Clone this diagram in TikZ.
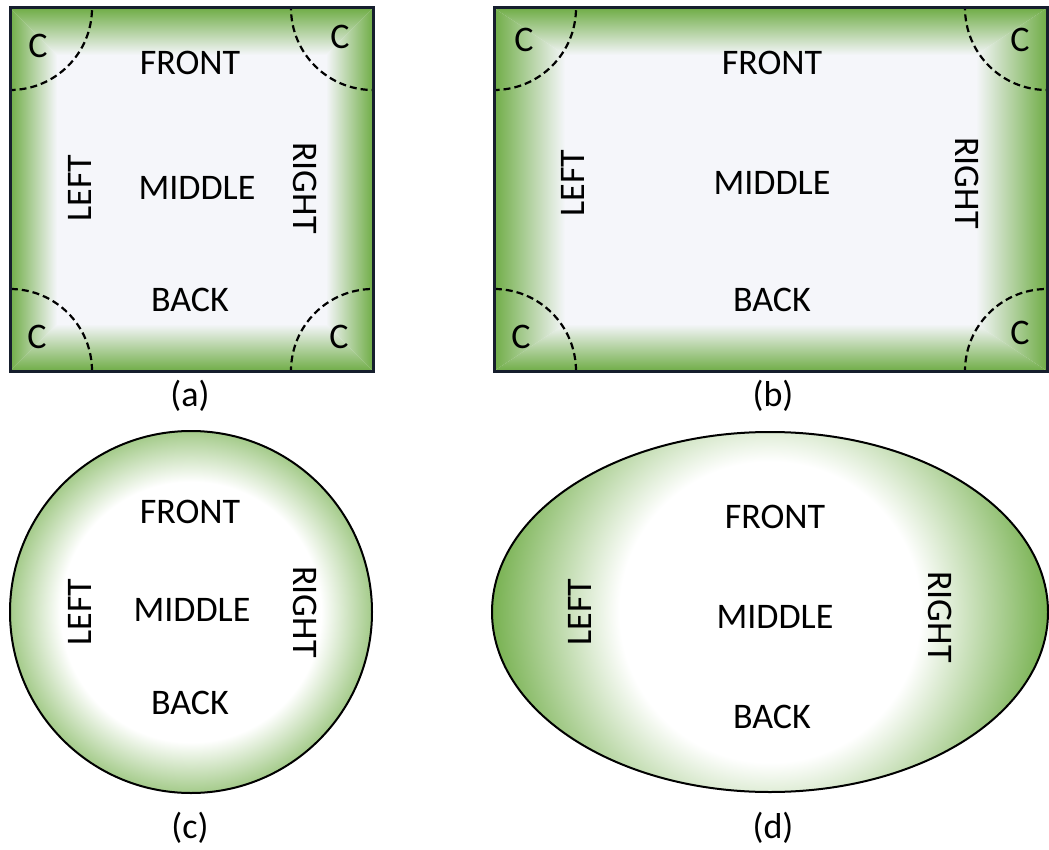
\documentclass[tikz,border=0pt]{standalone}
\usepackage{fontspec}
\setmainfont{Carlito}
\definecolor{grn}{RGB}{112,173,71}
\definecolor{pale}{RGB}{245,246,250}
\definecolor{edgec}{RGB}{22,30,45}
\pgfdeclareradialshading{ringc}{\pgfpoint{0bp}{0bp}}{color(0bp)=(white); color(15.5bp)=(white); color(25bp)=(grn); color(50bp)=(grn)}
\pgfdeclareradialshading{ringd}{\pgfpoint{0bp}{0bp}}{color(0bp)=(white); color(13.2bp)=(white); color(25bp)=(grn); color(50bp)=(grn)}
\tikzset{
  lbl/.style={inner sep=0pt, font=\fontsize{36}{40}\selectfont},
  frame/.style={draw=edgec, line width=3pt},
  rim/.style={draw=black, line width=2pt},
  cornerarc/.style={draw=black, line width=2.2pt, dash pattern=on 7pt off 4pt},
}
\begin{document}
\begin{tikzpicture}[x=1pt,y=1pt]
\useasboundingbox (0,0) rectangle (1049,-850);
% ---------- (a) ----------
\fill[pale] (10,-8) rectangle (373,-371);
\shade[top color=grn, bottom color=pale] (10,-8) -- (373,-8) -- (326,-55) -- (57,-55) -- cycle;
\shade[bottom color=grn, top color=pale] (10,-371) -- (373,-371) -- (326,-324) -- (57,-324) -- cycle;
\shade[left color=grn, right color=pale] (10,-8) -- (57,-55) -- (57,-324) -- (10,-371) -- cycle;
\shade[right color=grn, left color=pale] (373,-8) -- (326,-55) -- (326,-324) -- (373,-371) -- cycle;
\begin{scope}
  \clip (10,-8) rectangle (373,-371);
  \path[cornerarc] (10,-8) circle (82);
  \path[cornerarc] (373,-8) circle (82);
  \path[cornerarc] (10,-371) circle (82);
  \path[cornerarc] (373,-371) circle (82);
\end{scope}
\node[frame, fill=none, inner sep=0pt, minimum width=363pt, minimum height=363pt] (boxa) at (191.5,-189.5) {};
\node[lbl] (atl) at (38,-46) {C};
\node[lbl] (atr) at (340,-37) {C};
\node[lbl] (abl) at (37,-337) {C};
\node[lbl] (abr) at (339,-337) {C};
\node[lbl] (afront) at (190,-63) {FRONT};
\node[lbl] (aback) at (190,-300) {BACK};
\node[lbl] (amid) at (197,-188) {MIDDLE};
\node[lbl, rotate=90] (aleft) at (80,-188) {LEFT};
\node[lbl, rotate=-90] (aright) at (305,-188) {RIGHT};
\node[lbl] (capa) at (190,-396) {(a)};
% ---------- (b) ----------
\fill[pale] (494,-8) rectangle (1047,-371);
\shade[top color=grn, bottom color=pale] (494,-8) -- (1047,-8) -- (976,-55) -- (565,-55) -- cycle;
\shade[bottom color=grn, top color=pale] (494,-371) -- (1047,-371) -- (976,-324) -- (565,-324) -- cycle;
\shade[left color=grn, right color=pale] (494,-8) -- (565,-55) -- (565,-324) -- (494,-371) -- cycle;
\shade[right color=grn, left color=pale] (1047,-8) -- (976,-55) -- (976,-324) -- (1047,-371) -- cycle;
\begin{scope}
  \clip (494,-8) rectangle (1047,-371);
  \path[cornerarc] (494,-8) circle (82);
  \path[cornerarc] (1047,-8) circle (82);
  \path[cornerarc] (494,-371) circle (82);
  \path[cornerarc] (1047,-371) circle (82);
\end{scope}
\node[frame, fill=none, inner sep=0pt, minimum width=553pt, minimum height=363pt] (boxb) at (770.5,-189.5) {};
\node[lbl] (btl) at (524,-40) {C};
\node[lbl] (btr) at (1020,-40) {C};
\node[lbl] (bbl) at (521,-337) {C};
\node[lbl] (bbr) at (1020,-333) {C};
\node[lbl] (bfront) at (772,-63) {FRONT};
\node[lbl] (bback) at (772,-300) {BACK};
\node[lbl] (bmid) at (772,-183) {MIDDLE};
\node[lbl, rotate=90] (bleft) at (573,-183) {LEFT};
\node[lbl, rotate=-90] (bright) at (967,-183) {RIGHT};
\node[lbl] (capb) at (773,-396) {(b)};
% ---------- (c) ----------
\begin{scope}
  \clip (191,-612) circle (181);
  \shade[shading=ringc] (191,-612) circle (210);
\end{scope}
\node[rim, circle, inner sep=0pt, minimum size=362pt] (circc) at (191,-612) {};
\node[lbl] (cfront) at (190,-512) {FRONT};
\node[lbl] (cmid) at (192,-610) {MIDDLE};
\node[lbl] (cback) at (190,-703) {BACK};
\node[lbl, rotate=90] (cleft) at (80,-612) {LEFT};
\node[lbl, rotate=-90] (cright) at (305,-612) {RIGHT};
\node[lbl] (capc) at (190,-828) {(c)};
% ---------- (d) ----------
\begin{scope}
  \clip (770,-612) ellipse [x radius=278, y radius=180];
  \shade[shading=ringd] (770,-612) circle (285);
\end{scope}
\draw[rim] (770,-612) ellipse [x radius=278, y radius=180];
\node[inner sep=0pt, minimum width=556pt, minimum height=360pt] (elld) at (770,-612) {};
\node[lbl] (dfront) at (775,-517) {FRONT};
\node[lbl] (dmid) at (775,-617) {MIDDLE};
\node[lbl] (dback) at (772,-717) {BACK};
\node[lbl, rotate=90] (dleft) at (580,-612) {LEFT};
\node[lbl, rotate=-90] (dright) at (940,-617) {RIGHT};
\node[lbl] (capd) at (773,-828) {(d)};
\end{tikzpicture}
\end{document}
